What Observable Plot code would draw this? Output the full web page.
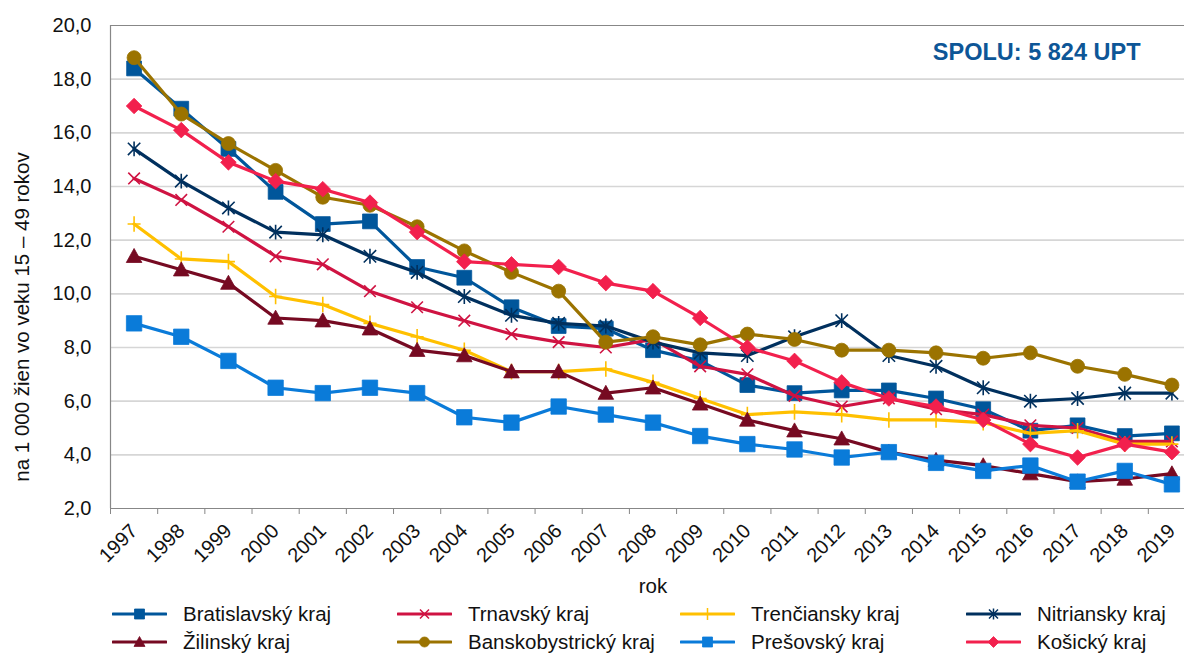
<!DOCTYPE html>
<html><head><meta charset="utf-8">
<script src="https://cdn.jsdelivr.net/npm/d3@7"></script>
<script src="https://cdn.jsdelivr.net/npm/@observablehq/plot@0.6"></script>
<style>
html,body{margin:0;padding:0;background:#fff;overflow:hidden;}
body{font-family:"Liberation Sans",Arial,sans-serif;width:1184px;}
#legend{position:relative;height:57px;width:1184px;}
.item{position:absolute;display:flex;align-items:center;font-size:20.5px;color:#111;height:28px;white-space:nowrap;}
.item svg{margin-right:16px;}
</style></head>
<body><div id="chart"></div><div id="legend"></div>
<script>
// ---------- data ----------
const years = [1997,1998,1999,2000,2001,2002,2003,2004,2005,2006,2007,2008,2009,2010,2011,2012,2013,2014,2015,2016,2017,2018,2019];
const yTicks = [2,4,6,8,10,12,14,16,18,20];
const regions = ["Bratislavský kraj","Trnavský kraj","Trenčiansky kraj","Nitriansky kraj","Žilinský kraj","Banskobystrický kraj","Prešovský kraj","Košický kraj"];
const bratislavsky    = [18.4,16.9,15.4,13.8,12.6,12.7,11.0,10.6,9.5,8.8,8.7,7.9,7.5,6.6,6.3,6.4,6.4,6.1,5.7,4.9,5.1,4.7,4.8];
const trnavsky        = [14.3,13.5,12.5,11.4,11.1,10.1,9.5,9.0,8.5,8.2,8.0,8.3,7.3,7.0,6.2,5.8,6.1,5.7,5.5,5.1,5.0,4.5,4.5];
const trenciansky     = [12.6,11.3,11.2,9.9,9.6,8.9,8.4,7.9,7.1,7.1,7.2,6.7,6.1,5.5,5.6,5.5,5.3,5.3,5.2,4.8,4.9,4.4,4.4];
const nitriansky      = [15.4,14.2,13.2,12.3,12.2,11.4,10.8,9.9,9.2,8.9,8.8,8.2,7.8,7.7,8.4,9.0,7.7,7.3,6.5,6.0,6.1,6.3,6.3];
const zilinsky        = [11.4,10.9,10.4,9.1,9.0,8.7,7.9,7.7,7.1,7.1,6.3,6.5,5.9,5.3,4.9,4.6,4.1,3.8,3.6,3.3,3.0,3.1,3.3];
const banskobystricky = [18.8,16.7,15.6,14.6,13.6,13.3,12.5,11.6,10.8,10.1,8.2,8.4,8.1,8.5,8.3,7.9,7.9,7.8,7.6,7.8,7.3,7.0,6.6];
const presovsky       = [8.9,8.4,7.5,6.5,6.3,6.5,6.3,5.4,5.2,5.8,5.5,5.2,4.7,4.4,4.2,3.9,4.1,3.7,3.4,3.6,3.0,3.4,2.9];
const kosicky         = [17.0,16.1,14.9,14.2,13.9,13.4,12.3,11.2,11.1,11.0,10.4,10.1,9.1,8.0,7.5,6.7,6.1,5.8,5.3,4.4,3.9,4.4,4.1];
const seriesValues = [bratislavsky,trnavsky,trenciansky,nitriansky,zilinsky,banskobystricky,presovsky,kosicky];
const totalText = "SPOLU: 5 824 UPT";
const xLabel = "rok";
const yLabel = "na 1 000 žien vo veku 15 – 49 rokov";

// ---------- symbols ----------
function mk(fn){ return {draw(ctx, size){ fn(ctx, Math.sqrt(size/Math.PI)); }}; }
const symSquare = mk((c,r)=>{c.rect(-r,-r,2*r,2*r);});
const symCircle = mk((c,r)=>{c.moveTo(r,0);c.arc(0,0,r,0,2*Math.PI);});
const symDiamond = mk((c,r)=>{c.moveTo(0,-r);c.lineTo(r,0);c.lineTo(0,r);c.lineTo(-r,0);c.closePath();});
const symTriangle = mk((c,r)=>{c.moveTo(0,-r);c.lineTo(r,r*0.8);c.lineTo(-r,r*0.8);c.closePath();});
const symX = mk((c,r)=>{c.moveTo(-r,-r);c.lineTo(r,r);c.moveTo(r,-r);c.lineTo(-r,r);});
const symPlus = mk((c,r)=>{c.moveTo(0,-r*1.2);c.lineTo(0,r*1.2);c.moveTo(-r,0);c.lineTo(r,0);});
const symStar = mk((c,r)=>{c.moveTo(-r,-r);c.lineTo(r,r);c.moveTo(r,-r);c.lineTo(-r,r);c.moveTo(0,-r*1.2);c.lineTo(0,r*1.2);});

// ---------- styles ----------
const styles = [
  {color:"#00569b", symbol:symSquare,  r:7.4, fill:true,  lr:5},
  {color:"#cf1342", symbol:symX,       r:5.8, fill:false, lr:4.5},
  {color:"#ffc000", symbol:symPlus,    r:6.5, fill:false, lr:5},
  {color:"#00305e", symbol:symStar,    r:6.2, fill:false, lr:4.5},
  {color:"#760a22", symbol:symTriangle,r:7.8, fill:true,  lr:5.5},
  {color:"#9b7300", symbol:symCircle,  r:7,   fill:true,  lr:5},
  {color:"#0a7bd9", symbol:symSquare,  r:7.7, fill:true,  lr:5},
  {color:"#f2204d", symbol:symDiamond, r:7.8, fill:true,  lr:5.5}
];

const rows = regions.map((name,i)=>years.map((y,j)=>({region:name, year:y, value:seriesValues[i][j]})));
const fmt = d => d.toFixed(1).replace(".", ",");
const gray = "#878787";

const marks = [
  Plot.ruleY(yTicks.filter(d=>d>2 && d<20), {y:d=>d, stroke:"#d6d6d6", strokeWidth:1.6}),
  Plot.ruleY([20], {y:d=>d, stroke:gray, strokeWidth:1.2}),
  Plot.ruleY([2], {y:d=>d, stroke:gray, strokeWidth:1.2}),
  Plot.ruleX([years[0]-0.5], {x:d=>d, stroke:gray, strokeWidth:1.2}),
  Plot.axisY({ticks:yTicks, tickFormat:fmt, tickSize:0, tickPadding:19, fontSize:20, label:null, fill:"#111"}),
  Plot.axisX({ticks:years.map(d=>d-0.5), tickSize:6, tickFormat:()=>"", stroke:gray, label:null}),
  Plot.axisX({ticks:years, tickSize:0, tickPadding:19, tickRotate:-45, tickFormat:d=>String(d), fontSize:20, label:null, fill:"#111"}),
  Plot.text([xLabel], {text:d=>d, frameAnchor:"bottom", dy:84, fontSize:20.5, fill:"#111"}),
  Plot.text([yLabel], {text:d=>d, frameAnchor:"left", dx:-88, dy:50, rotate:-90, fontSize:20.5, fill:"#111", textAnchor:"middle"}),
  Plot.text([totalText], {text:d=>d, frameAnchor:"top-right", dx:-55, dy:27, lineAnchor:"middle", textAnchor:"end", fontSize:23.5, fontWeight:"bold", fill:"#0d5697"})
];
rows.forEach((data,i)=>{
  const s = styles[i];
  marks.push(Plot.line(data, {x:"year", y:"value", stroke:s.color, strokeWidth:3.2, strokeLinejoin:"round"}));
  marks.push(Plot.dot(data, {x:"year", y:"value", symbol:s.symbol, r:s.r,
    fill: s.fill ? s.color : "none", stroke:s.color, strokeWidth: s.fill ? 0.8 : 1.6}));
});

const chart = Plot.plot({
  width:1184, height:600,
  marginLeft:110, marginRight:-11, marginTop:25, marginBottom:92,
  style:{fontFamily:"Liberation Sans, Arial, sans-serif", background:"#fff", overflow:"visible"},
  x:{type:"linear", domain:[years[0]-0.5, years[years.length-1]+0.5]},
  y:{domain:[2,20]},
  marks
});
document.getElementById("chart").appendChild(chart);

// ---------- legend ----------
const legend = document.getElementById("legend");
const lefts = [112, 397, 680, 966];
regions.forEach((name,i)=>{
  const s = styles[i];
  const col = i % 4, row = Math.floor(i/4);
  const item = document.createElement("div");
  item.className = "item";
  item.style.left = lefts[col] + "px";
  item.style.top = (row*28) + "px";
  const svg = d3.create("svg").attr("width",55).attr("height",20);
  svg.append("line").attr("x1",1).attr("x2",54).attr("y1",10).attr("y2",10)
     .attr("stroke",s.color).attr("stroke-width",3.2).attr("stroke-linecap","round");
  const p = d3.path();
  s.symbol.draw(p, Math.PI*s.lr*s.lr);
  svg.append("path").attr("d",p.toString()).attr("transform","translate(27.5,10)")
     .attr("fill", s.fill ? s.color : "none").attr("stroke",s.color).attr("stroke-width", s.fill?0.8:1.5);
  item.appendChild(svg.node());
  const span = document.createElement("span");
  span.textContent = name;
  item.appendChild(span);
  legend.appendChild(item);
});
</script>
</body></html>
